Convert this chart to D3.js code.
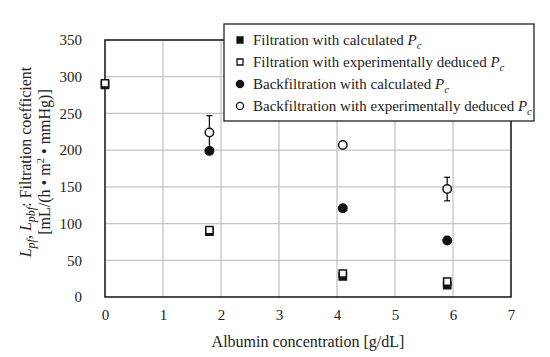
<!DOCTYPE html>
<html>
<head>
<meta charset="utf-8">
<script src="https://cdn.jsdelivr.net/npm/d3@7"></script>
<style>
  body { margin: 0; background: #fff; }
  text { font-family: "Liberation Serif", "Times New Roman", serif; fill: #222; }
</style>
</head>
<body>
<div id="chart"></div>
<script>
// albumin concentration (g/dL)
const albumin = [0, 1.8, 4.1, 5.9];

// filtration coefficients (mL/(h·m²·mmHg))
const filtrationCalc = [289, 89, 28, 16];
const filtrationExp = [291, 91, 32, 21];
const backCalc = [null, 199, 121, 77];
const backExp = [null, 224, 207, 147];
const backExpErr = [null, 23, 0, 16];

const xTicks = [0, 1, 2, 3, 4, 5, 6, 7];
const yTicks = [0, 50, 100, 150, 200, 250, 300, 350];

const width = 550, height = 357;
const margin = {top: 40, right: 39, bottom: 60, left: 105};
const chartWidth = width - margin.left - margin.right;
const chartHeight = height - margin.top - margin.bottom;

const svg = d3.select('#chart').append('svg')
    .attr('width', width)
    .attr('height', height);

const xScale = d3.scaleLinear().domain([0, 7]).range([0, chartWidth]);
const yScale = d3.scaleLinear().domain([0, 350]).range([chartHeight, 0]);

const g = svg.append('g').attr('transform', `translate(${margin.left},${margin.top})`);

// grid
g.append('g').selectAll('line').data(xTicks.slice(1, -1)).join('line')
    .attr('x1', d => xScale(d)).attr('x2', d => xScale(d))
    .attr('y1', 0).attr('y2', chartHeight)
    .attr('stroke', '#c4c4c4').attr('stroke-width', 1.3);
g.append('g').selectAll('line').data(yTicks.slice(1, -1)).join('line')
    .attr('y1', d => yScale(d)).attr('y2', d => yScale(d))
    .attr('x1', 0).attr('x2', chartWidth)
    .attr('stroke', '#c4c4c4').attr('stroke-width', 1.3);

// frame
g.append('rect')
    .attr('width', chartWidth).attr('height', chartHeight)
    .attr('fill', 'none').attr('stroke', '#111').attr('stroke-width', 1.5);

// axes (labels only)
const xAxis = d3.axisBottom(xScale).tickValues(xTicks).tickFormat(d3.format('d')).tickSize(0).tickPadding(12);
const yAxis = d3.axisLeft(yScale).tickValues(yTicks).tickFormat(d3.format('d')).tickSize(0).tickPadding(23);

const styleAxis = s => {
    s.select('.domain').remove();
    s.attr('font-family', null).attr('font-size', null);
    s.selectAll('text').attr('font-size', 15).attr('fill', '#222');
};
g.append('g').attr('transform', `translate(0,${chartHeight})`).call(xAxis).call(styleAxis);
g.append('g').call(yAxis).call(styleAxis);

// axis titles
svg.append('text')
    .attr('x', margin.left + chartWidth / 2).attr('y', 347)
    .attr('text-anchor', 'middle').attr('font-size', 16)
    .text('Albumin concentration [g/dL]');

const yTitle = svg.append('text')
    .attr('transform', 'translate(31,162) rotate(-90)')
    .attr('text-anchor', 'middle').attr('font-size', 16);
yTitle.append('tspan').attr('font-style', 'italic').text('L');
yTitle.append('tspan').attr('font-style', 'italic').attr('font-size', 12).attr('dy', 4).text('pf');
yTitle.append('tspan').attr('dy', -4).text(', ');
yTitle.append('tspan').attr('font-style', 'italic').text('L');
yTitle.append('tspan').attr('font-style', 'italic').attr('font-size', 12).attr('dy', 4).text('pbf');
yTitle.append('tspan').attr('dy', -4).text(': Filtration coefficient');

const yTitle2 = svg.append('text')
    .attr('transform', 'translate(50,162) rotate(-90)')
    .attr('text-anchor', 'middle').attr('font-size', 16);
yTitle2.append('tspan').text('[mL/(h \u2022 m');
yTitle2.append('tspan').attr('font-size', 11).attr('dy', -6).text('2');
yTitle2.append('tspan').attr('dy', 6).text(' \u2022 mmHg)]');

// series
const series = [
    {name: 'Filtration with calculated ', values: filtrationCalc, shape: 'square', fill: '#111'},
    {name: 'Filtration with experimentally deduced ', values: filtrationExp, shape: 'square', fill: '#fff'},
    {name: 'Backfiltration with calculated ', values: backCalc, shape: 'circle', fill: '#111'},
    {name: 'Backfiltration with experimentally deduced ', values: backExp, shape: 'circle', fill: '#fff', err: backExpErr}
];

const symbolFor = s => d3.symbol()
    .type(s.shape === 'square' ? d3.symbolSquare : d3.symbolCircle)
    .size(s.shape === 'square' ? 52 : 56);

// error bars
const errData = albumin.map((a, i) => ({x: a, y: backExp[i], e: backExpErr[i]}))
    .filter(d => d.y != null && d.e > 0);
const eg = g.append('g').attr('stroke', '#111').attr('stroke-width', 1.3);
errData.forEach(d => {
    eg.append('line').attr('x1', xScale(d.x)).attr('x2', xScale(d.x))
        .attr('y1', yScale(d.y + d.e)).attr('y2', yScale(d.y - d.e));
    [d.y + d.e, d.y - d.e].forEach(v => {
        eg.append('line').attr('x1', xScale(d.x) - 3).attr('x2', xScale(d.x) + 3)
            .attr('y1', yScale(v)).attr('y2', yScale(v));
    });
});

series.forEach(s => {
    const pts = albumin.map((a, i) => ({x: a, y: s.values[i]})).filter(d => d.y != null);
    g.append('g').selectAll('path').data(pts).join('path')
        .attr('d', symbolFor(s))
        .attr('transform', d => `translate(${xScale(d.x)},${yScale(d.y)})`)
        .attr('fill', s.fill)
        .attr('stroke', '#111').attr('stroke-width', 1.5);
});

// legend
const legend = svg.append('g').attr('transform', 'translate(224,24)');
legend.append('rect')
    .attr('width', 310).attr('height', 97)
    .attr('fill', '#fff').attr('stroke', '#222').attr('stroke-width', 1.3);
series.forEach((s, i) => {
    const row = legend.append('g').attr('transform', `translate(16,${16 + i * 22})`);
    row.append('path')
        .attr('d', d3.symbol().type(s.shape === 'square' ? d3.symbolSquare : d3.symbolCircle).size(s.shape === 'square' ? 36 : 40))
        .attr('fill', s.fill).attr('stroke', '#111').attr('stroke-width', 1.3);
    const t = row.append('text').attr('x', 13).attr('y', 5).attr('font-size', 15);
    t.append('tspan').text(s.name);
    t.append('tspan').attr('font-style', 'italic').text('P');
    t.append('tspan').attr('font-style', 'italic').attr('font-size', 11).attr('dy', 4).text('c');
});
</script>
</body>
</html>
